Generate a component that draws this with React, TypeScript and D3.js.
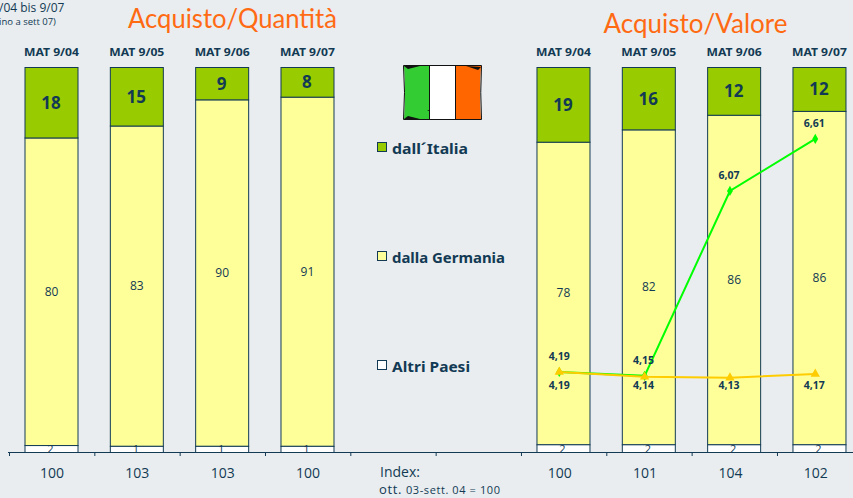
import React from "react";
import * as d3 from "d3";

const periods = ["MAT 9/04", "MAT 9/05", "MAT 9/06", "MAT 9/07"];
const slots = d3.range(10).map(String);
const leftSlots = ["0", "1", "2", "3"];
const rightSlots = ["6", "7", "8", "9"];
const qtyItaly = [18.3, 15.2, 8.4, 7.7];
const qtyGermany = [79.9, 83.2, 90.0, 90.7];
const qtyOther = [1.8, 1.6, 1.6, 1.6];
const qtyLabels = [["18", "80", "2"], ["15", "83", "1"], ["9", "90", "1"], ["8", "91", "1"]];
const valItaly = [19.4, 16.2, 12.4, 11.4];
const valGermany = [78.6, 81.8, 85.6, 86.6];
const valOther = [2, 2, 2, 2];
const valLabels = [["19", "78", "2"], ["16", "82", "2"], ["12", "86", "2"], ["12", "86", "2"]];
const qtyIndex = ["100", "103", "103", "100"];
const valIndex = ["100", "101", "104", "102"];
const priceItaly = [4.19, 4.15, 6.07, 6.61];
const priceGermany = [4.19, 4.14, 4.13, 4.17];
const legendItems = ["dall´Italia", "dalla Germania", "Altri Paesi"];
const legendRows = [149, 258, 367];
const legendWidths = [76, 113, 78];

const NAVY = "#123a54";
const GREEN = "#99CC00";
const YELLOW = "#FFFF99";
const FONT = "'Open Sans', 'Noto Sans', sans-serif";
const BOLD = "'Noto Sans', sans-serif";

const xBand = d3.scaleBand().domain(slots).range([9, 862.3]).paddingInner(0).paddingOuter(0);
const BAR_W = 53;
const BAR_OFF = 16;
const yPct = d3.scaleLinear().domain([0, 100]).range([67.5, 452.5]);
const yPrice = d3.scaleLinear().domain([4, 7]).range([390.3, 101.4]);
const comma = (v: number) => v.toFixed(2).replace(".", ",");

function Bars({ slotsUsed, italy, germany, other, labels, index, indexOff }: any) {
  return (
    <g>
      {slotsUsed.map((s: string, i: number) => {
        const x = (xBand(s) as number) + BAR_OFF;
        const cx = x + BAR_W / 2;
        const y1 = yPct(italy[i]);
        const y2 = yPct(italy[i] + germany[i]);
        const y3 = yPct(italy[i] + germany[i] + other[i]);
        const l = labels[i];
        return (
          <g key={s}>
            <rect x={x} y={y1} width={BAR_W} height={y2 - y1} fill={YELLOW} stroke={NAVY} strokeWidth={1} />
            <rect x={x} y={y2} width={BAR_W} height={y3 - y2} fill="#fff" stroke={NAVY} strokeWidth={1} />
            <rect x={x} y={yPct(0)} width={BAR_W} height={y1 - yPct(0)} fill={GREEN} stroke={NAVY} strokeWidth={1} />
            <text x={cx - 0.5} y={(yPct(0) + y1) / 2 + 6} textAnchor="middle" fontFamily={BOLD} fontWeight="bold" fontSize={17} fill={NAVY}>{l[0]}</text>
            <text x={cx} y={(y1 + y2) / 2 + 4} textAnchor="middle" fontFamily={FONT} fontSize={12} fill={NAVY}>{l[1]}</text>
            <text x={cx - 1} y={y3 + 0.5} textAnchor="middle" fontFamily={FONT} fontSize={11} fill={NAVY}>{l[2]}</text>
            <text x={cx} y={56} textAnchor="middle" fontFamily={BOLD} fontWeight="bold" fontSize={10.5} fill={NAVY} textLength={55} lengthAdjust="spacingAndGlyphs">{periods[i]}</text>
            <text x={(xBand(s) as number) + indexOff} y={478} textAnchor="middle" fontFamily={FONT} fontSize={14} fill={NAVY}>{index[i]}</text>
          </g>
        );
      })}
    </g>
  );
}

function PriceLine({ values, color, marker }: { values: number[]; color: string; marker: "diamond" | "triangle" }) {
  const px = rightSlots.map((s) => (xBand(s) as number) + 38.3);
  const line = d3.line<number>().x((_, i) => px[i]).y((v) => yPrice(v));
  const sym = d3.symbol().type(marker === "diamond" ? d3.symbolDiamond : d3.symbolTriangle).size(marker === "diamond" ? 30 : 38);
  return (
    <g>
      <path d={line(values) as string} fill="none" stroke={color} strokeWidth={2} />
      {values.map((v, i) => (
        <path key={i} d={sym() as string} transform={`translate(${px[i]},${yPrice(v)})`} fill={color} />
      ))}
    </g>
  );
}

export default function App() {
  const swatches = [GREEN, YELLOW, "#fff"];
  const px = rightSlots.map((s) => (xBand(s) as number) + 38.3);
  return (
    <svg width={853} height={498} style={{ position: "absolute", left: 0, top: 0, background: "#E9EDEF" }}>
      <text x={-1} y={12} fontFamily={FONT} fontSize={12} fill={NAVY}>/04 bis 9/07</text>
      <text x={-1} y={25} fontFamily={FONT} fontSize={9.5} fill={NAVY}>ino a sett 07)</text>
      <text x={232.5} y={28} textAnchor="middle" fontFamily="Lato, 'Open Sans', sans-serif" fontSize={26} fill="#FF6A13" textLength={209} lengthAdjust="spacingAndGlyphs">Acquisto/Quantità</text>
      <text x={695.5} y={33} textAnchor="middle" fontFamily="Lato, 'Open Sans', sans-serif" fontSize={26} fill="#FF6A13">Acquisto/Valore</text>

      <Bars slotsUsed={leftSlots} italy={qtyItaly} germany={qtyGermany} other={qtyOther} labels={qtyLabels} index={qtyIndex} indexOff={43} />
      <Bars slotsUsed={rightSlots} italy={valItaly} germany={valGermany} other={valOther} labels={valLabels} index={valIndex} indexOff={38.8} />

      <line x1={8} x2={853} y1={452.5} y2={452.5} stroke={NAVY} strokeWidth={1} />
      {slots.map((s) => (
        <line key={s} x1={(xBand(s) as number) + 0.5} x2={(xBand(s) as number) + 0.5} y1={452.5} y2={456} stroke={NAVY} strokeWidth={1} />
      ))}

      <PriceLine values={priceItaly} color="#00FF00" marker="diamond" />
      <PriceLine values={priceGermany} color="#FFCC00" marker="triangle" />
      {priceItaly.map((v, i) => (
        <text key={i} x={px[i] + (i === 0 ? 0 : -1)} y={yPrice(v) - 12} textAnchor="middle" fontFamily={BOLD} fontWeight="bold" fontSize={10.5} fill={NAVY}>{comma(v)}</text>
      ))}
      {priceGermany.map((v, i) => (
        <text key={i} x={px[i] + (i === 0 ? 0 : -1)} y={389} textAnchor="middle" fontFamily={BOLD} fontWeight="bold" fontSize={10.5} fill={NAVY}>{comma(v)}</text>
      ))}

      {/* hand-drawn flag */}
      <g>
        <path d="M404,66 H429.5 V120 H404 Q406,92 404,66Z" fill="#33CC33" />
        <rect x={429.5} y={66} width={26} height={54} fill="#fff" />
        <path d="M455.5,66 H481 Q479,92 481,120 H455.5Z" fill="#FF6600" />
        <path d="M403.5,65.5 H481.5 Q480,92 481.5,119.5 H403.5 Q405.5,92 403.5,65.5Z" fill="none" stroke="#111" strokeWidth={1} />
        <line x1={429.5} x2={429.5} y1={65.5} y2={120} stroke="#111" strokeWidth={1} />
        <line x1={455.5} x2={455.5} y1={65.5} y2={120} stroke="#111" strokeWidth={1} />
        <path d="M404,66 L420,66 L408,69Z M404,119 L420,119 L408,116Z M481,67 L466,66 L478,70Z M427,110 L429,110 L429,111Z" fill="#111" />
      </g>

      {legendItems.map((t, i) => (
        <g key={t}>
          <rect x={377.5} y={legendRows[i] - 6.5} width={9} height={9} fill={swatches[i]} stroke={NAVY} strokeWidth={1} />
          <text x={392} y={legendRows[i] + 5} fontFamily={BOLD} fontWeight="bold" fontSize={14} fill={NAVY} textLength={legendWidths[i]} lengthAdjust="spacingAndGlyphs">{t}</text>
        </g>
      ))}

      <text x={380} y={476.5} fontFamily={FONT} fontSize={14} fill={NAVY}>Index:</text>
      <text x={379} y={494} fontFamily={FONT} fontSize={13} fill={NAVY} textLength={121} lengthAdjust="spacing">ott. <tspan fontSize={11}>03-sett. 04 = 100</tspan></text>
    </svg>
  );
}
